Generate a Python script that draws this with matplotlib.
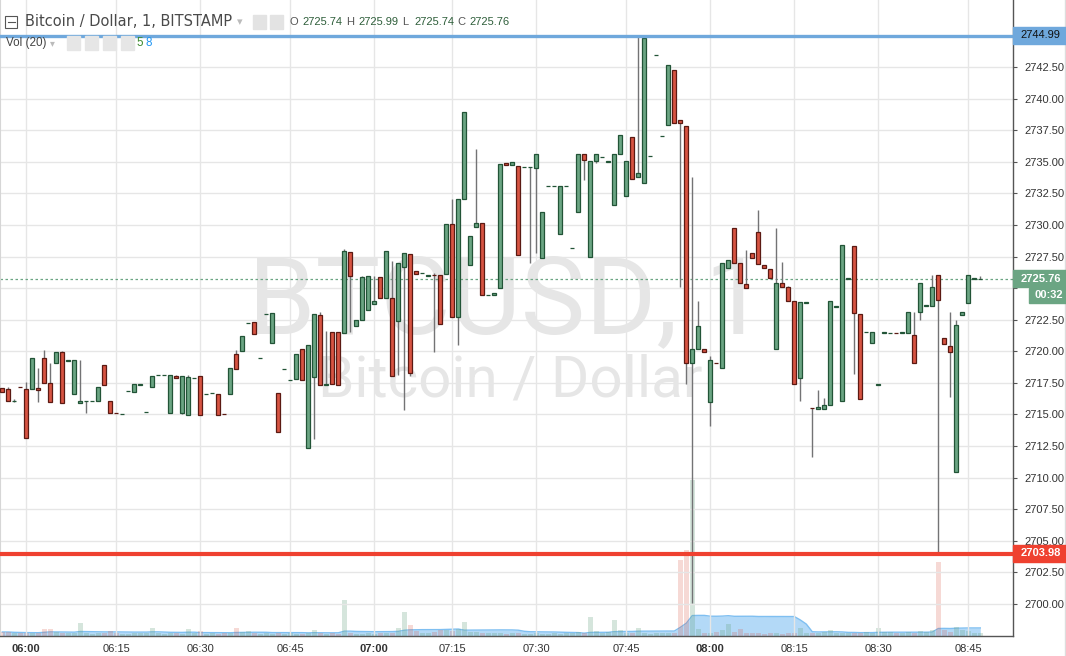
import matplotlib
matplotlib.use('Agg')
import matplotlib.pyplot as plt
import numpy as np
import pandas as pd
from matplotlib.patches import Rectangle
from matplotlib.lines import Line2D
from matplotlib import font_manager as fm

W, H = 1066, 656

# ---------------- data (1-minute candles, BITSTAMP BTC/USD) ----------------
OPEN = [
 2717.07, 2717.00, 2716.08, 2717.16, 2716.99, 2717.04, 2717.09, 2719.44, 2717.46, 2719.04,
 2719.92, 2719.27, 2716.59, 2715.88, 2716.03, 2716.03, 2716.04, 2718.89, 2716.04, 2715.10,
 2715.03, 2716.82, 2716.80, 2717.37, 2715.16, 2717.20, 2718.09, 2718.09, 2715.14, 2718.07,
 2715.14, 2714.98, 2717.85, 2718.04, 2716.58, 2716.66, 2716.59, 2715.01, 2716.64, 2719.76,
 2720.05, 2722.20, 2722.29, 2719.43, 2722.94, 2720.68, 2716.67, 2718.56, 2717.69, 2717.83,
 2720.15, 2712.37, 2717.99, 2722.84, 2717.37, 2721.50, 2721.50, 2721.47, 2727.83, 2722.03,
 2722.50, 2723.29, 2723.77, 2725.85, 2724.24, 2724.19, 2722.42, 2726.70, 2727.67, 2726.33,
 2726.16, 2725.99, 2726.01, 2726.00, 2726.09, 2730.05, 2722.69, 2732.03, 2726.80, 2729.81,
 2730.13, 2724.42, 2724.43, 2725.00, 2734.88, 2734.72, 2734.64, 2734.58, 2734.58, 2734.48,
 2727.36, 2733.07, 2733.07, 2729.26, 2733.07, 2728.14, 2731.05, 2735.59, 2727.43, 2735.03,
 2735.34, 2735.02, 2731.55, 2735.59, 2732.26, 2736.99, 2733.76, 2733.29, 2735.48, 2743.46,
 2737.06, 2737.93, 2742.24, 2738.34, 2737.84, 2719.07, 2720.19, 2720.19, 2715.97, 2719.06,
 2718.66, 2726.61, 2729.72, 2727.02, 2725.35, 2727.81, 2729.41, 2726.80, 2726.48, 2720.20,
 2725.37, 2725.06, 2723.95, 2717.91, 2723.86, 2715.49, 2715.45, 2715.45, 2715.72, 2723.54,
 2716.09, 2725.76, 2728.30, 2722.99, 2721.49, 2720.62, 2717.37, 2721.48, 2721.46, 2721.48,
 2721.48, 2721.47, 2721.26, 2723.08, 2723.62, 2723.61, 2726.01, 2721.02, 2720.39, 2710.41,
 2722.84, 2723.84, 2725.76, 2725.74]
CLOSE = [
 2716.80, 2716.09, 2716.10, 2717.15, 2713.11, 2719.44, 2716.96, 2717.46, 2715.96, 2719.92,
 2715.88, 2719.28, 2719.28, 2716.04, 2716.04, 2716.04, 2717.15, 2717.30, 2715.09, 2715.09,
 2715.04, 2716.83, 2717.41, 2717.38, 2715.17, 2718.04, 2718.10, 2718.10, 2718.10, 2717.91,
 2718.04, 2717.96, 2717.86, 2714.98, 2716.59, 2716.67, 2714.98, 2715.00, 2718.68, 2718.62,
 2721.18, 2722.21, 2721.39, 2719.44, 2722.95, 2723.00, 2713.64, 2718.57, 2717.70, 2719.76,
 2717.75, 2720.47, 2722.92, 2717.36, 2717.38, 2717.43, 2717.36, 2727.91, 2725.98, 2722.45,
 2725.85, 2725.93, 2723.98, 2724.24, 2727.91, 2718.07, 2726.96, 2727.75, 2718.31, 2726.14,
 2726.17, 2726.00, 2726.00, 2722.13, 2730.05, 2722.69, 2732.03, 2738.91, 2729.10, 2730.13,
 2724.43, 2724.43, 2724.59, 2734.80, 2734.72, 2735.01, 2727.59, 2734.59, 2734.59, 2735.59,
 2731.05, 2733.08, 2733.08, 2733.08, 2733.08, 2728.15, 2735.59, 2735.17, 2735.03, 2735.59,
 2735.35, 2735.03, 2735.59, 2737.09, 2735.03, 2733.67, 2734.14, 2744.79, 2735.49, 2743.47,
 2737.07, 2742.62, 2738.04, 2738.04, 2719.07, 2720.19, 2722.00, 2719.95, 2719.34, 2719.05,
 2727.02, 2727.20, 2727.02, 2725.44, 2725.03, 2727.40, 2726.88, 2726.56, 2725.77, 2725.37,
 2725.11, 2723.95, 2717.38, 2723.87, 2723.87, 2715.48, 2715.56, 2715.72, 2723.95, 2723.55,
 2728.38, 2725.77, 2723.05, 2716.19, 2721.50, 2721.50, 2717.38, 2721.49, 2721.47, 2721.47,
 2721.49, 2723.08, 2719.04, 2725.37, 2723.63, 2725.06, 2724.08, 2720.55, 2719.96, 2722.05,
 2723.08, 2726.01, 2725.77, 2725.76]
# wick extremes that reach beyond the body (bar number -> price)
WICK_HIGH = {2: 2717.20, 3: 2716.20, 5: 2717.57, 7: 2718.70, 8: 2720.10, 9: 2719.05,
             11: 2720.02, 14: 2719.31, 30: 2718.15, 32: 2718.15, 40: 2720.10, 54: 2723.11,
             55: 2721.60, 58: 2728.07, 61: 2725.96, 63: 2725.96, 66: 2727.12, 73: 2726.17,
             76: 2732.05, 80: 2735.99, 107: 2745.00, 116: 2733.76, 117: 2724.00,
             119: 2719.63, 125: 2728.05, 127: 2731.18, 130: 2729.75, 131: 2727.06,
             132: 2725.16, 137: 2716.93, 138: 2716.27, 153: 2723.08, 156: 2726.03,
             159: 2723.08, 160: 2722.47, 164: 2725.99}
WICK_LOW = {3: 2716.00, 7: 2716.01, 15: 2715.09, 31: 2715.04, 53: 2713.06, 59: 2721.52,
            67: 2718.12, 68: 2715.35, 69: 2718.04, 73: 2719.97, 77: 2720.50, 89: 2726.96,
            90: 2727.75, 98: 2733.58, 100: 2734.90, 114: 2725.11, 115: 2717.43,
            116: 2700.05, 119: 2714.06, 134: 2716.09, 136: 2711.65, 143: 2718.17,
            154: 2722.47, 157: 2704.06, 159: 2716.40}
VOLUME = [
 4, 4, 3, 3, 3, 3, 3, 7, 7, 4,
 3, 3, 3, 13, 3, 2, 3, 3, 5, 3,
 2, 2, 3, 3, 3, 8, 3, 2, 3, 3,
 2, 7, 3, 5, 2, 3, 2, 3, 3, 8,
 4, 5, 3, 2, 3, 2, 3, 2, 3, 2,
 2, 3, 6, 3, 2, 3, 2, 36, 3, 2,
 2, 3, 2, 3, 3, 3, 8, 24, 11, 5,
 3, 3, 4, 6, 6, 5, 7, 14, 4, 4,
 3, 3, 3, 3, 2, 3, 3, 2, 2, 3,
 2, 2, 3, 2, 3, 3, 4, 3, 19, 5,
 3, 4, 16, 6, 3, 3, 8, 3, 2, 3,
 3, 3, 3, 76, 86, 156, 7, 3, 3, 4,
 6, 12, 4, 7, 3, 3, 3, 2, 3, 3,
 2, 3, 3, 8, 3, 3, 3, 4, 6, 3,
 3, 3, 3, 3, 4, 3, 8, 4, 4, 3,
 3, 4, 3, 5, 4, 6, 74, 6, 4, 9,
 6, 5, 3, 3]
PRICE_TICKS = [2700.0, 2702.5, 2705.0, 2707.5, 2710.0, 2712.5, 2715.0, 2717.5, 2720.0,
               2722.5, 2725.0, 2727.5, 2730.0, 2732.5, 2735.0, 2737.5, 2740.0, 2742.5]
TIME_TICK_BARS = [4, 19, 33, 48, 62, 75, 89, 104, 118, 132, 146, 161]
TIME_TICK_LABELS = ['06:00', '06:15', '06:30', '06:45', '07:00', '07:15', '07:30',
                    '07:45', '08:00', '08:15', '08:30', '08:45']
RESIST = 2744.99
SUPPORT = 2703.98
LAST = 2725.76
COUNTDOWN = '00:32'
HEADER_OHLC = [('O', '2725.74'), ('H', '2725.99'), ('L', '2725.74'), ('C', '2725.76')]

# ---------------- styling ----------------
UP, UP_EDGE = '#6ba583', '#225437'
DN, DN_EDGE = '#d75442', '#5b1a13'
WICK = '#737375'
GRID = '#e6e6e6'
plt.rcParams['font.family'] = ['Liberation Sans', 'DejaVu Sans']
HDR = ['DejaVu Sans']

names = {f.name for f in fm.fontManager.ttflist}
if 'Liberation Sans Narrow' in names:
    WM_FONT, WM1, WM2 = 'Liberation Sans Narrow', 88, 48
else:
    WM_FONT, WM1, WM2 = 'Roboto', 78, 42

fig = plt.figure(figsize=(W / 100, H / 100), dpi=100)
fig.patch.set_facecolor('white')

def fx(x):
    return x / W

def fy(y):
    return 1 - y / H

ax_vol = fig.add_axes([0, 20 / H, 1013 / W, 636 / H])
ax = fig.add_axes([0, 20 / H, 1013 / W, 636 / H], sharex=ax_vol)
ax.set_zorder(ax_vol.get_zorder() + 1)
ax.patch.set_visible(False)

n = len(OPEN)
idx = np.arange(n)
o = np.array(OPEN)
c = np.array(CLOSE)
top = np.maximum(o, c)
bot = np.minimum(o, c)
hi = top.copy()
lo = bot.copy()
for k, v in WICK_HIGH.items():
    hi[k - 1] = v
for k, v in WICK_LOW.items():
    lo[k - 1] = v
up = c >= o

# volume pane with its 20-bar moving average
vol = np.array(VOLUME, dtype=float)
ma = pd.Series(vol).rolling(20, min_periods=1).mean().values
ax_vol.fill_between(idx, 0, ma, color='#a6d3f6', alpha=0.85, lw=0, zorder=1)
ax_vol.plot(idx, ma, color='#7fbff1', lw=1.0, zorder=2)
ax_vol.bar(idx[up], vol[up], width=0.8, color=UP, alpha=0.28, lw=0, zorder=3)
ax_vol.bar(idx[~up], vol[~up], width=0.8, color=DN, alpha=0.22, lw=0, zorder=3)
ax_vol.set_ylim(0, 636)
ax_vol.set_yticks([])
for s in ax_vol.spines.values():
    s.set_visible(False)
ax_vol.tick_params(axis='x', length=0, labelbottom=False)

# price pane
ax.set_xlim(4 - 26.3 / 6, 4 + (1013 - 26.3) / 6)
ax.set_ylim(2742.5 - (636 - 67) / 12.635, 2742.5 + 67 / 12.635)
ax.set_axisbelow(True)
ax.grid(True, color=GRID, lw=1.0)

ax.text(fx(507), fy(333), 'BTCUSD, 1', transform=fig.transFigure, ha='center',
        va='baseline', fontsize=WM1, color='#e6e6e6', family=WM_FONT, zorder=0.8)
ax.text(fx(510), fy(396), 'Bitcoin / Dollar', transform=fig.transFigure, ha='center',
        va='baseline', fontsize=WM2, color='#e6e6e6', family=WM_FONT, zorder=0.8)

need_w = (hi > top) | (lo < bot)
ax.vlines(idx[need_w], lo[need_w], hi[need_w], color=WICK, lw=1.0, zorder=3)
ax.bar(idx[up], (top - bot)[up], bottom=bot[up], width=0.72, color=UP,
       edgecolor=UP_EDGE, lw=0.9, zorder=4)
ax.bar(idx[~up], (top - bot)[~up], bottom=bot[~up], width=0.72, color=DN,
       edgecolor=DN_EDGE, lw=0.9, zorder=4)

ax.axhline(RESIST, color='#6fa8dc', lw=2.4, zorder=5)
ax.axhline(SUPPORT, color='#ef4130', lw=3.0, zorder=5)
ax.axhline(LAST, color=UP, lw=0.9, ls=(0, (2, 2)), zorder=2)

ax.yaxis.tick_right()
ax.set_yticks(PRICE_TICKS)
# the 2725.00 label sits under the last-price tag in the reference
ax.set_yticklabels(['' if t == 2725.0 else '%.2f' % t for t in PRICE_TICKS])
ax.tick_params(axis='y', length=3, width=0.8, color='#555555', labelsize=8,
               labelcolor='#333333', pad=5)
ax.set_xticks(TIME_TICK_BARS)
ax.set_xticklabels(TIME_TICK_LABELS)
ax.tick_params(axis='x', length=0, labelsize=8, labelcolor='#333333', pad=6)
for lab in ax.get_xticklabels():
    if lab.get_text().endswith(':00'):
        lab.set_fontweight('bold')
ax.spines['top'].set_visible(False)
ax.spines['left'].set_color('#d6d6d6')
ax.spines['right'].set_color('#555555')
ax.spines['bottom'].set_color('#555555')
ax.spines['right'].set_linewidth(1.0)
ax.spines['bottom'].set_linewidth(1.0)

# right-scale price tags
def price_box(y0, y1, x0, txt, bg, fg, bold=False):
    fig.patches.append(Rectangle((fx(x0), fy(y1)), (1066 - x0) / W, (y1 - y0) / H,
                                 transform=fig.transFigure, color=bg, zorder=5))
    fig.text(fx((x0 + 1066) / 2 + 1), fy((y0 + y1) / 2), txt, ha='center', va='center',
             fontsize=8, color=fg, fontweight='bold' if bold else 'normal', zorder=6)

price_box(27, 44, 1013, '%.2f' % RESIST, '#6fa8dc', '#111111')
price_box(270, 287, 1013, '%.2f' % LAST, UP, 'white', bold=True)
price_box(288, 303, 1029, COUNTDOWN, UP, 'white', bold=True)
price_box(545, 562, 1013, '%.2f' % SUPPORT, '#ef4130', 'white', bold=True)
fig.lines.append(Line2D([fx(1065), fx(1065)], [0, 1], transform=fig.transFigure,
                        color='#dddddd', lw=1))

# header
fig.patches.append(Rectangle((fx(5), fy(28)), 12 / W, 12 / H, transform=fig.transFigure,
                             fill=False, ec='#555555', lw=0.8, zorder=6))
fig.lines.append(Line2D([fx(7.5), fx(14.5)], [fy(22), fy(22)], transform=fig.transFigure,
                        color='#555555', lw=0.8, zorder=6))
fig.text(fx(25), fy(22), 'Bitcoin / Dollar, 1, BITSTAMP', ha='left', va='center',
         fontsize=10.5, color='#4a4a4a', family=HDR, zorder=6)
fig.text(fx(237), fy(22), '\u25be', ha='left', va='center', fontsize=8, color='#bbbbbb',
         family=HDR, zorder=6)
for xx in (253, 270):
    fig.patches.append(Rectangle((fx(xx), fy(29)), 13 / W, 14 / H, transform=fig.transFigure,
                                 color='#e3e3e3', zorder=6))
xs = [290, 346, 402, 457]
for (lab, val), xx in zip(HEADER_OHLC, xs):
    fig.text(fx(xx), fy(22), lab, ha='left', va='center', fontsize=8.0, color='#555555',
             zorder=6)
    fig.text(fx(xx + 12), fy(22), val, ha='left', va='center', fontsize=8.0,
             color='#2e5e3a', zorder=6)
fig.text(fx(6), fy(43), 'Vol (20)', ha='left', va='center', fontsize=8.4, color='#444444',
         zorder=6)
fig.text(fx(50), fy(43), '\u25be', ha='left', va='center', fontsize=7, color='#bbbbbb',
         family=HDR, zorder=6)
for xx in (67, 85, 103, 121):
    fig.patches.append(Rectangle((fx(xx), fy(50)), 13 / W, 14 / H, transform=fig.transFigure,
                                 color='#e6e6e6', zorder=6))
fig.text(fx(136), fy(43), '5', ha='left', va='center', fontsize=8.4, color='#3c8a2e',
         zorder=6)
fig.text(fx(146), fy(43), '8', ha='left', va='center', fontsize=8.4, color='#2196f3',
         zorder=6)

fig.savefig('out.png', dpi=100, facecolor='white')
